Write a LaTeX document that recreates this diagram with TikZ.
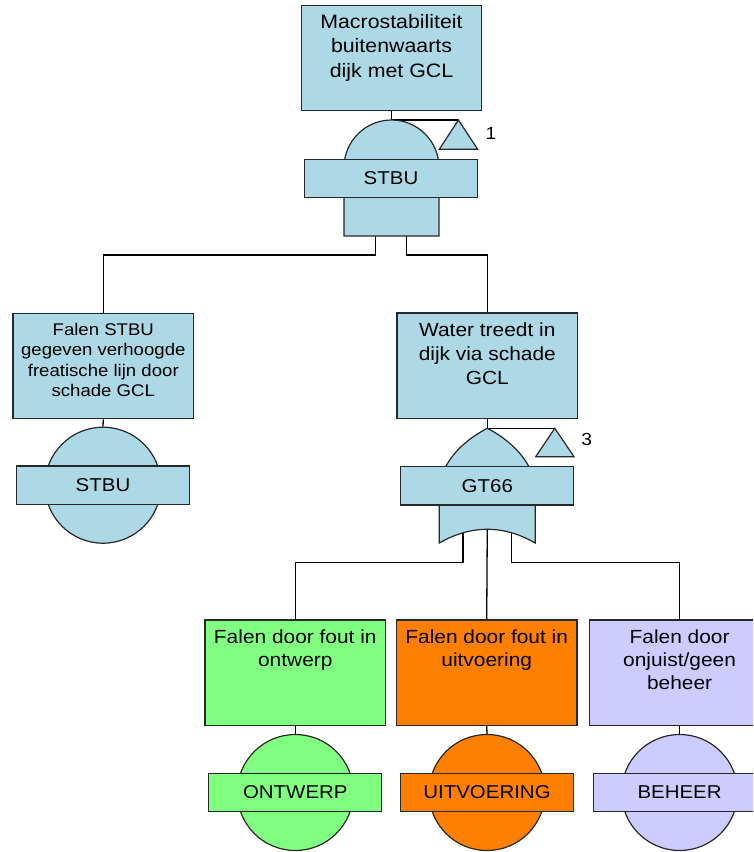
\documentclass[tikz,border=0pt]{standalone}
\usepackage{fontspec}
\setmainfont{Liberation Sans}[FakeStretch=1.1]
\usetikzlibrary{calc}
\pgfdeclarelayer{background}
\pgfsetlayers{background,main}

\definecolor{gateblue}{RGB}{173,216,230}
\definecolor{designgreen}{RGB}{128,255,128}
\definecolor{buildorange}{RGB}{255,128,0}
\definecolor{mgmtlilac}{RGB}{204,204,255}
\definecolor{edgegray}{RGB}{40,40,40}

\tikzset{
  eventbox/.style={draw=edgegray, line width=1.2pt, minimum width=180.5pt,
    minimum height=105.5pt, inner sep=0pt},
  boxtext/.style={anchor=north, align=center, inner sep=0pt,
    font=\fontsize{19}{23}\selectfont},
  taglabel/.style={draw=edgegray, line width=1.2pt, minimum width=173pt,
    minimum height=38.3pt, inner sep=0pt, font=\fontsize{18.6}{22}\selectfont},
  basicevent/.style={circle, draw=edgegray, line width=1.2pt, minimum size=116pt,
    inner sep=0pt},
  gatebody/.style={draw=edgegray, line width=1.2pt, fill=gateblue},
  transfer/.style={draw=edgegray, line width=1.2pt, fill=gateblue},
  wire/.style={draw=black, line width=1.3pt},
  refnum/.style={inner sep=0pt, font=\fontsize{17.5}{20}\selectfont},
}

\begin{document}
\begin{tikzpicture}[x=1pt, y=-1pt]
\useasboundingbox (0,0) rectangle (753,852);
\clip (0,0) rectangle (753,852);

% ---- event boxes ----
\node[eventbox, fill=gateblue] (top) at (391.5,58) {};
\node[boxtext, font=\fontsize{19.4}{24.5}\selectfont] (toptext) at (391.5,14.1)
  {Macrostabiliteit\\buitenwaarts\\dijk met GCL};

\node[eventbox, fill=gateblue] (left) at (103.3,366) {};
\node[boxtext, font=\fontsize{16.9}{20.5}\selectfont] (lefttext) at (103.3,322.9)
  {Falen STBU\\gegeven verhoogde\\freatische lijn door\\schade GCL};

\node[eventbox, fill=gateblue] (water) at (487.3,365.7) {};
\node[boxtext, font=\fontsize{19}{24}\selectfont] (watertext) at (487.3,322.1)
  {Water treedt in\\dijk via schade\\GCL};

\node[eventbox, fill=designgreen] (design) at (295.3,672.8) {};
\node[boxtext] (designtext) at (295.3,629.7) {Falen door fout in\\ontwerp};

\node[eventbox, fill=buildorange] (build) at (486.7,672.8) {};
\node[boxtext] (buildtext) at (486.7,629.7) {Falen door fout in\\uitvoering};

\node[eventbox, fill=mgmtlilac] (mgmt) at (679.6,672.8) {};
\node[boxtext] (mgmttext) at (679.6,629.7) {Falen door\\onjuist/geen\\beheer};

% ---- AND gate under the top event ----
\coordinate (g1in) at (391.5,120);
\coordinate (g1outL) at (375.7,236);
\coordinate (g1outR) at (406.7,236);
\draw[gatebody] (344,236) -- (344,167.5)
  .. controls (344,141.3) and (365.3,120) .. (391.5,120)
  .. controls (417.7,120) and (439,141.3) .. (439,167.5)
  -- (439,236) -- cycle;
\node[taglabel, fill=gateblue] (g1lab) at (391,178.3) {STBU};

\coordinate (tr1) at (458.4,120);
\draw[transfer] (tr1) -- (477.7,149.3) -- (439.3,149.3) -- cycle;
\node[refnum] (tr1lab) at (491,133) {1};

% ---- OR gate under the water event ----
\coordinate (g2in) at (487.3,428.3);
\coordinate (g2outL) at (463,525);
\coordinate (g2outC) at (487.3,525);
\coordinate (g2outR) at (511.6,525);
\draw[gatebody] (439.3,543) -- (439.3,490)
  .. controls (439.3,470) and (455,445) .. (g2in)
  .. controls (519.6,445) and (535.3,470) .. (535.3,490)
  -- (535.3,543)
  .. controls (503.3,524.7) and (471.3,524.7) .. (439.3,543) -- cycle;
\node[taglabel, fill=gateblue] (g2lab) at (487.3,485.8) {GT66};

\coordinate (tr2) at (554.8,428.3);
\draw[transfer] (tr2) -- (574,456.7) -- (535.7,456.7) -- cycle;
\node[refnum] (tr2lab) at (586.7,439.7) {3};

% ---- basic events ----
\node[basicevent, fill=gateblue] (e1) at (103,485.2) {};
\node[taglabel, fill=gateblue] (e1lab) at (103,485.2) {STBU};

\node[basicevent, fill=designgreen] (e2) at (295.3,792.5) {};
\node[taglabel, fill=designgreen] (e2lab) at (295.3,792.5) {ONTWERP};

\node[basicevent, fill=buildorange] (e3) at (487,792.5) {};
\node[taglabel, fill=buildorange] (e3lab) at (487,792.5) {UITVOERING};

\node[basicevent, fill=mgmtlilac] (e4) at (679.6,792.5) {};
\node[taglabel, fill=mgmtlilac] (e4lab) at (679.6,792.5) {BEHEER};

% ---- connectors ----
\coordinate (bus1) at (0,255);
\coordinate (bus2) at (0,562.7);
\begin{pgfonlayer}{background}
  \draw[wire] (top.south) -- (g1in);
  \draw[wire] (g1in) -- (tr1);
  \draw[wire] (g1outL) -- (g1outL |- bus1) -| (left.north);
  \draw[wire] (g1outR) -- (g1outR |- bus1) -| (water.north);
  \draw[wire] (left.south) -- (e1.north);
  \draw[wire] (water.south) -- (g2in);
  \draw[wire] (g2in) -- (tr2);
  \draw[wire] (g2outL) -- (g2outL |- bus2) -| (design.north);
  \draw[wire] (g2outC) -- (build.north);
  \draw[wire] (g2outR) -- (g2outR |- bus2) -| (mgmt.north);
  \draw[wire] (design.south) -- (e2.north);
  \draw[wire] (build.south) -- (e3.north);
  \draw[wire] (mgmt.south) -- (e4.north);
\end{pgfonlayer}
\end{tikzpicture}
\end{document}
